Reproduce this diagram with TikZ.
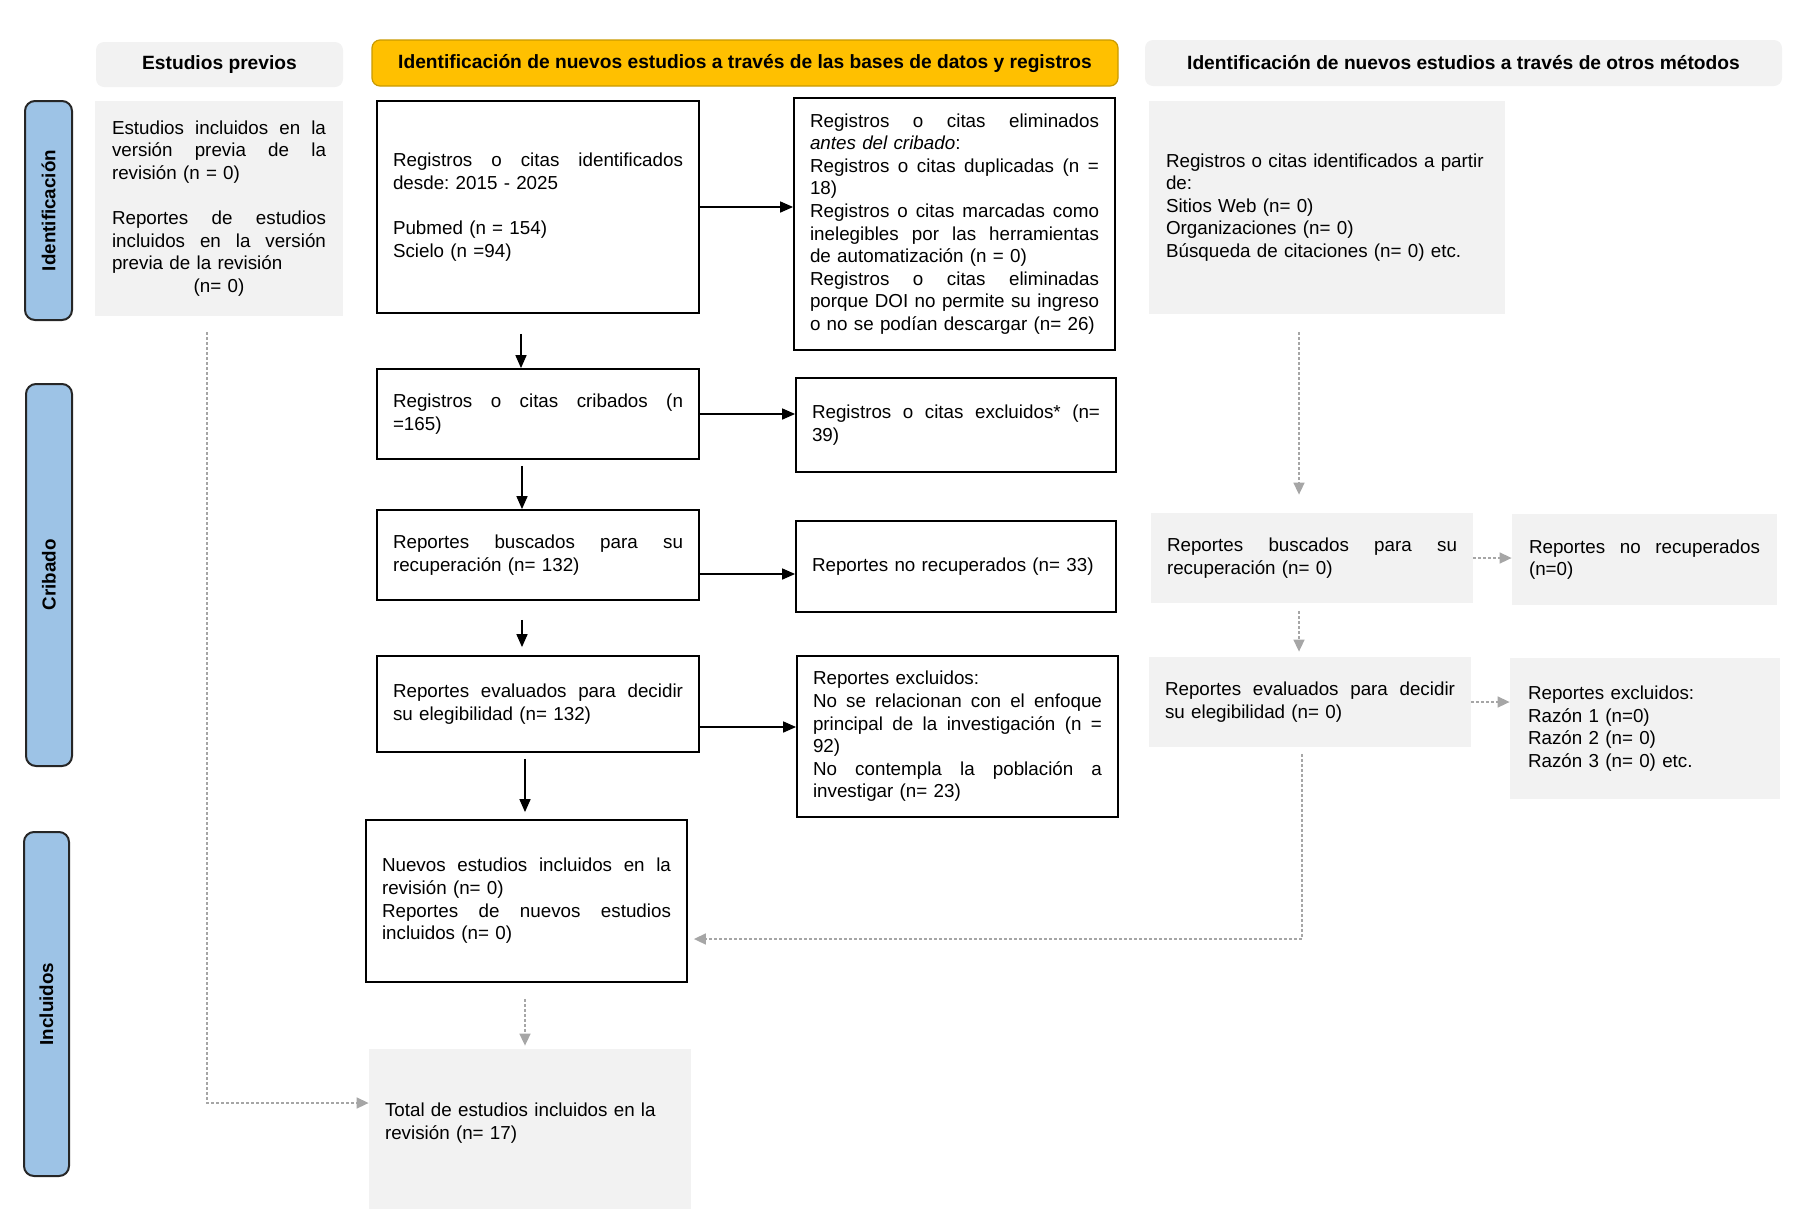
\documentclass[tikz,border=0pt]{standalone}
\usepackage{fontspec}
\setmainfont{Liberation Sans}
\usetikzlibrary{arrows.meta,calc}
\definecolor{lgray}{HTML}{F2F2F2}
\definecolor{sideblue}{HTML}{9DC3E6}
\definecolor{hyellow}{HTML}{FFC000}
\definecolor{ydark}{HTML}{C99A00}
\definecolor{agray}{HTML}{A6A6A6}
\newcommand\jl[1]{\leavevmode\hbox to\linewidth{#1}\\}
\frenchspacing
\begin{document}
\begin{tikzpicture}[x=0.5pt,y=-0.5pt,
 txt/.style={font=\fontsize{9.4}{11.3}\selectfont, align=left, inner ysep=0pt, inner xsep=8pt},
 wbox/.style={txt, draw=black, line width=0.9pt, fill=white},
 gbox/.style={txt, fill=lgray},
 hdr/.style={font=\bfseries\fontsize{9.6}{11}\selectfont, rounded corners=4pt, inner sep=0pt},
 side/.style={draw=black!85, line width=1pt, fill=sideblue, rounded corners=5pt, rotate=90, inner sep=0pt, font=\bfseries\fontsize{9.4}{11}\selectfont},
 arr/.style={-{Triangle[length=6.5pt,width=5.5pt]}, line width=0.8pt, black},
 garr/.style={-{Triangle[length=6pt,width=5.5pt]}, line width=0.8pt, agray, dash pattern=on 1.5pt off 1pt},
]
\useasboundingbox (0,0) rectangle (1800,1211);

% headers
\node[hdr, fill=lgray, minimum width=123.5pt, minimum height=22.5pt] (hA) at (219.5,64.5) {Estudios previos};
\node[hdr, fill=hyellow, draw=ydark, line width=0.6pt, minimum width=373pt, minimum height=23pt] (hB) at (745,63) {Identificación de nuevos estudios a través de las bases de datos y registros};
\node[hdr, fill=lgray, minimum width=318.5pt, minimum height=23pt] (hC) at (1463.5,63) {Identificación de nuevos estudios a través de otros métodos};

% side bars
\node[side, minimum width=109.5pt, minimum height=23.5pt] (sI) at (48.5,210.5) {Identificación};
\node[side, minimum width=191pt, minimum height=23pt] (sC) at (49,575) {Cribado};
\node[side, minimum width=172pt, minimum height=22.5pt] (sN) at (46.5,1004) {Incluidos};

% left column
\node[gbox, text width=107pt, inner xsep=8.5pt, minimum height=107.5pt] (ep) at (219,208.5) {%
\jl{Estudios\hfill incluidos\hfill en\hfill la}
\jl{versión\hfill previa\hfill de\hfill la}
revisión (n = 0)\\[11.3pt]
\jl{Reportes\hfill de\hfill estudios}
\jl{incluidos\hfill en\hfill la\hfill versión}
previa de la revisión\\
\makebox[\linewidth][c]{(n= 0)}};

% main column
\node[wbox, text width=145pt, minimum height=106pt] (b1) at (538,207) {%
\jl{Registros\hfill o\hfill citas\hfill identificados}
desde: 2015 - 2025\\[11.3pt]
Pubmed (n = 154)\\
Scielo (n =94)};

\node[wbox, text width=144.5pt, minimum height=126pt] (rm) at (954.5,224) {%
\jl{Registros\hfill o\hfill citas\hfill eliminados}
\textit{antes del cribado}:\\
\jl{Registros\hfill o\hfill citas\hfill duplicadas\hfill (n\hfill =}
18)\\
\jl{Registros\hfill o\hfill citas\hfill marcadas\hfill como}
\jl{inelegibles\hfill por\hfill las\hfill herramientas}
de automatización (n = 0)\\
\jl{Registros\hfill o\hfill citas\hfill eliminadas}
\jl{porque\hfill DOI\hfill no\hfill permite\hfill su\hfill ingreso}
o no se podían descargar (n= 26)};

\node[gbox, text width=161pt, inner xsep=8.5pt, minimum height=106.5pt] (ot) at (1327,207.5) {%
Registros o citas identificados a partir\\
de:\\
Sitios Web (n= 0)\\
Organizaciones (n= 0)\\
Búsqueda de citaciones (n= 0) etc.};

\node[wbox, text width=145pt, minimum height=45pt] (cr) at (538,414) {%
\jl{Registros\hfill o\hfill citas\hfill cribados\hfill (n}
=165)};

\node[wbox, text width=144pt, minimum height=47pt] (ex) at (956,425) {%
\jl{Registros\hfill o\hfill citas\hfill excluidos*\hfill (n=}
39)};

\node[wbox, text width=145pt, minimum height=45pt] (bu) at (538,555) {%
\jl{Reportes\hfill buscados\hfill para\hfill su}
recuperación (n= 132)};

\node[wbox, text width=144pt, minimum height=45.5pt] (nr) at (956,566.5) {%
Reportes no recuperados (n= 33)};

\node[wbox, text width=145pt, minimum height=48pt] (ev) at (538,704) {%
\jl{Reportes\hfill evaluados\hfill para\hfill decidir}
su elegibilidad (n= 132)};

\node[wbox, text width=144.5pt, minimum height=80.5pt] (rx) at (957.5,736.5) {%
Reportes excluidos:\\
\jl{No\hfill se\hfill relacionan\hfill con\hfill el\hfill enfoque}
\jl{principal\hfill de\hfill la\hfill investigación\hfill (n\hfill =}
92)\\
\jl{No\hfill contempla\hfill la\hfill población\hfill a}
investigar (n= 23)};

% right column
\node[gbox, text width=145pt, minimum height=45pt] (rb) at (1312,558) {%
\jl{Reportes\hfill buscados\hfill para\hfill su}
recuperación (n= 0)};

\node[gbox, text width=115.5pt, inner xsep=8.5pt, minimum height=45.5pt] (rnr) at (1644.5,559.5) {%
\jl{Reportes\hfill no\hfill recuperados}
(n=0)};

\node[gbox, text width=145pt, minimum height=45pt] (re) at (1310,702) {%
\jl{Reportes\hfill evaluados\hfill para\hfill decidir}
su elegibilidad (n= 0)};

\node[gbox, text width=117pt, inner xsep=9pt, minimum height=70.5pt] (rex) at (1645,728.5) {%
Reportes excluidos:\\
Razón 1 (n=0)\\
Razón 2 (n= 0)\\
Razón 3 (n= 0) etc.};

% included
\node[wbox, text width=144.5pt, minimum height=81pt] (nu) at (526.5,901) {%
\jl{Nuevos\hfill estudios\hfill incluidos\hfill en\hfill la}
revisión (n= 0)\\
\jl{Reportes\hfill de\hfill nuevos\hfill estudios}
incluidos (n= 0)};

\node[gbox, text width=145pt, minimum height=80pt] (tot) at (530,1129) {%
Total de estudios incluidos en la\\
revisión (n= 17)\\[-3.3pt]\mbox{}};

% black connectors
\draw[arr] (b1.east) -- (b1.east -| rm.west);
\draw[arr] ($(b1.south)+(-17,20)$) -- ($(cr.north)+(-17,0)$);
\draw[arr] (cr.east) -- (cr.east -| ex.west);
\draw[arr] ($(cr.south)+(-16,6)$) -- ($(bu.north)+(-16,0)$);
\draw[arr] ($(bu.east)+(0,19)$) -- ($(nr.west)+(0,7.5)$);
\draw[arr] ($(bu.south)+(-16,19)$) -- ($(ev.north)+(-16,-8)$);
\draw[arr] ($(ev.east)+(0,23)$) -- ($(rx.west)+(0,-9.5)$);
\draw[arr] ($(ev.south)+(-13,6)$) -- ($(nu.north)+(-1.5,-7)$);

% gray connectors
\draw[garr] ($(nu.south)+(-1.5,16)$) -- ($(tot.north)+(-5,-3)$);
\draw[garr] ($(ep.south)+(-12,16)$) |- ($(tot.west)+(0,-26)$);
\draw[garr] ($(ot.south)+(-28,18)$) -- ($(rb.north)+(-13,-18)$);
\draw[garr] ($(rb.south)+(-13,8)$) -- ($(re.north)+(-11,-5)$);
\draw[garr] (rb.east) -- (rb.east -| rnr.west);
\draw[garr] (re.east) -- (re.east -| rex.west);
\draw[garr] ($(re.south)+(-8,7)$) |- ($(nu.east)+(6,38)$);
\end{tikzpicture}
\end{document}
